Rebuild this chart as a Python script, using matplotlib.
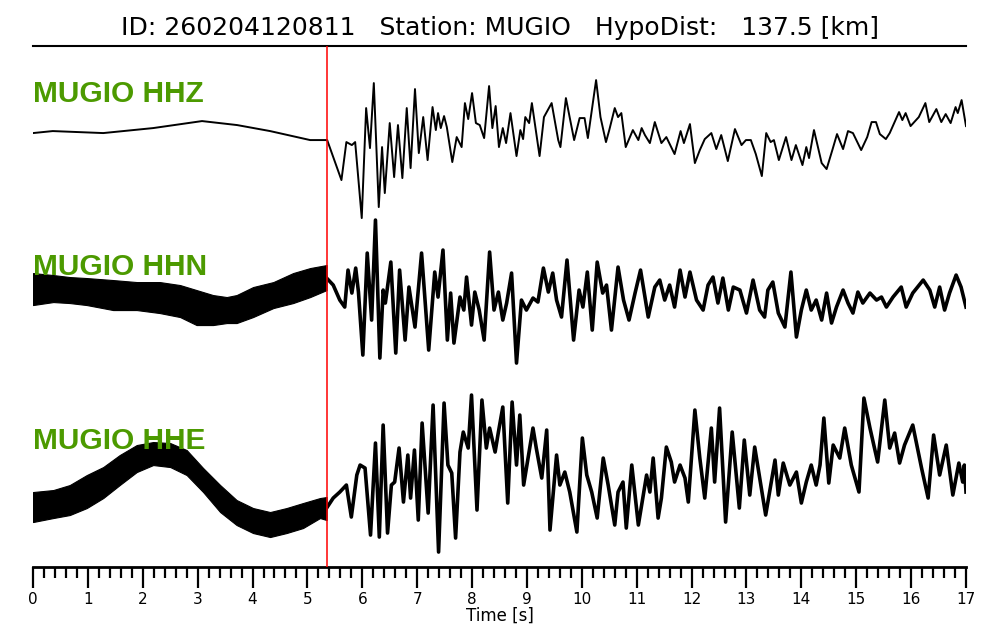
import numpy as np
import matplotlib
matplotlib.use("Agg")
import matplotlib.pyplot as plt
from matplotlib.ticker import MultipleLocator

# ---------------- data (time [s], amplitude [arb.]) ----------------
title_text = "ID: 260204120811   Station: MUGIO   HypoDist:   137.5 [km]"
channels = ["MUGIO HHZ", "MUGIO HHN", "MUGIO HHE"]
p_pick = 5.36

# HHZ trace (turning points)
hhz = np.array([
    (0.00, -2), (0.36, 0), (1.28, -2), (2.19, 3), (3.08, 10), (3.72, 6), (4.32, 0),
    (5.05, -9), (5.36, -9), (5.47, -26), (5.62, -49), (5.71, -11), (5.81, -14), (5.87, -11),
    (5.99, -87), (6.07, 23), (6.14, -17), (6.21, 48), (6.30, -76), (6.36, -16), (6.41, -62),
    (6.50, 8), (6.58, -46), (6.65, 6), (6.73, -47), (6.81, 23), (6.88, -37), (6.96, 42),
    (7.03, -22), (7.11, 14), (7.19, -29), (7.28, 24), (7.34, 1), (7.38, 18), (7.43, 3),
    (7.49, 15), (7.54, 4), (7.64, -31), (7.72, -6), (7.81, -16), (7.87, 28), (7.93, 12),
    (8.00, 38), (8.07, 8), (8.14, 6), (8.22, -7), (8.31, 45), (8.37, 3), (8.43, 25),
    (8.49, -16), (8.56, 3), (8.62, -12), (8.70, 18), (8.81, -25), (8.88, 1), (8.93, -8),
    (8.97, 14), (9.04, 8), (9.09, 28), (9.23, -25), (9.31, 14), (9.45, 28), (9.57, -9),
    (9.61, -16), (9.71, 33), (9.86, -9), (9.96, 13), (10.05, 13), (10.11, -7), (10.26, 51),
    (10.34, 14), (10.44, -11), (10.50, 1), (10.60, 23), (10.66, 14), (10.72, 18), (10.80, -16),
    (10.93, 1), (11.03, -9), (11.09, 3), (11.15, -4), (11.24, -12), (11.33, 9), (11.45, -12),
    (11.54, -6), (11.69, -23), (11.80, 0), (11.86, -12), (11.97, 7), (12.06, -32), (12.15, -19),
    (12.24, -8), (12.36, -2), (12.45, -18), (12.54, -4), (12.66, -30), (12.79, 2), (12.91, -14),
    (12.99, -9), (13.08, -9), (13.17, -23), (13.28, -45), (13.36, -2), (13.44, -11), (13.50, -9),
    (13.59, -29), (13.72, -6), (13.82, -29), (13.90, -14), (14.02, -34), (14.09, -16), (14.14, -27),
    (14.23, 1), (14.37, -32), (14.46, -38), (14.57, -18), (14.65, -3), (14.76, -18), (14.85, 0),
    (14.94, -2), (15.09, -19), (15.20, -6), (15.28, 9), (15.36, 9), (15.43, -3), (15.54, -8),
    (15.61, -2), (15.78, 19), (15.84, 11), (15.90, 18), (15.99, 5), (16.14, 14), (16.26, 28),
    (16.33, 9), (16.46, 22), (16.55, 9), (16.63, 17), (16.72, 8), (16.81, 24), (16.85, 18),
    (16.92, 31), (17.00, 5),
])

# HHN pre-event noise envelope (time, upper, lower)
hhn_noise = np.array([
    (0.00, 17, -15), (0.37, 15, -12), (0.67, 13, -13), (0.98, 12, -15), (1.46, 10, -20),
    (1.89, 8, -20), (2.31, 8, -23), (2.68, 5, -27), (2.98, 0, -35), (3.28, -5, -35),
    (3.53, -7, -33), (3.71, -5, -33), (4.01, 3, -27), (4.38, 8, -18), (4.74, 17, -13),
    (5.05, 22, -7), (5.35, 25, 0),
])
# HHN trace after the P pick
hhn = np.array([
    (5.35, 12), (5.47, 5), (5.59, -10), (5.68, -17), (5.74, 20), (5.81, -3), (5.88, 22),
    (5.93, -2), (6.01, -65), (6.09, 37), (6.17, -30), (6.24, 70), (6.32, -68), (6.38, 0),
    (6.42, -13), (6.52, 28), (6.61, -63), (6.68, 20), (6.78, -50), (6.85, 3), (6.96, -37),
    (7.08, 37), (7.21, -60), (7.32, 18), (7.38, -7), (7.47, 40), (7.55, -50), (7.61, -3),
    (7.67, -53), (7.78, -7), (7.85, -20), (7.90, 13), (7.99, -35), (8.05, -2), (8.13, -20),
    (8.22, -50), (8.32, 38), (8.40, -20), (8.48, -2), (8.56, -30), (8.63, -13), (8.72, 17),
    (8.81, -73), (8.90, -10), (8.99, -20), (9.11, -8), (9.20, -12), (9.30, 22), (9.39, -2),
    (9.47, 17), (9.54, -10), (9.63, -27), (9.73, 30), (9.85, -50), (9.95, 0), (10.02, -17),
    (10.10, 18), (10.19, -40), (10.28, 28), (10.38, -3), (10.45, 5), (10.54, -40), (10.66, 23),
    (10.76, -10), (10.86, -30), (10.97, -3), (11.07, 20), (11.21, -27), (11.33, 3), (11.42, 10),
    (11.51, -10), (11.60, 5), (11.69, -17), (11.79, 20), (11.88, -7), (11.97, 18), (12.09, -10),
    (12.21, -20), (12.30, 5), (12.39, 13), (12.48, -13), (12.57, 12), (12.67, -20), (12.76, 3),
    (12.88, 0), (13.00, -23), (13.12, 10), (13.24, -20), (13.33, -27), (13.39, 0), (13.48, 8),
    (13.58, -23), (13.70, -37), (13.81, 18), (13.91, -47), (14.00, -20), (14.09, 0), (14.18, -20),
    (14.27, -10), (14.37, -30), (14.46, -3), (14.55, -33), (14.64, -17), (14.76, 0), (14.85, -13),
    (14.94, -23), (15.03, -2), (15.12, -13), (15.25, -3), (15.37, -10), (15.46, -7), (15.55, -17),
    (15.67, -7), (15.82, 3), (15.91, -17), (16.03, -3), (16.22, 10), (16.34, 0), (16.43, -17),
    (16.52, 3), (16.61, -20), (16.70, -3), (16.82, 15), (16.91, 3), (17.00, -17),
])

# HHE pre-event noise envelope (time, upper, lower)
hhe_noise = np.array([
    (0.00, -2, -32), (0.37, 0, -28), (0.67, 5, -25), (0.98, 15, -18), (1.28, 23, -8),
    (1.58, 35, 5), (1.89, 45, 18), (2.19, 48, 25), (2.50, 47, 23), (2.80, 40, 15),
    (3.10, 22, -2), (3.41, 5, -22), (3.71, -10, -35), (4.01, -18, -43), (4.32, -22, -47),
    (4.62, -18, -43), (4.92, -13, -38), (5.23, -8, -28), (5.35, -7, -30),
])
# HHE trace after the P pick
hhe = np.array([
    (5.35, -18), (5.47, -8), (5.59, -2), (5.71, 5), (5.80, -27), (5.90, 15), (5.96, 25),
    (6.05, 22), (6.15, -45), (6.24, 47), (6.31, -47), (6.38, 65), (6.46, -43), (6.53, 5),
    (6.59, 8), (6.67, 42), (6.75, -12), (6.83, 35), (6.88, -8), (6.95, 40), (7.02, -30),
    (7.09, 67), (7.20, -23), (7.29, 85), (7.39, -62), (7.49, 87), (7.56, 25), (7.63, 17),
    (7.70, -48), (7.78, 38), (7.84, 58), (7.93, 42), (7.99, 95), (8.09, -20), (8.18, 90),
    (8.26, 42), (8.32, 62), (8.42, 38), (8.48, 58), (8.56, 83), (8.65, -13), (8.73, 88),
    (8.81, 25), (8.87, 75), (8.94, 5), (9.02, 32), (9.11, 62), (9.17, 42), (9.27, 12),
    (9.36, 60), (9.42, -40), (9.48, -2), (9.54, 35), (9.60, 5), (9.69, 18), (9.78, -2),
    (9.91, -42), (10.01, 52), (10.09, 15), (10.18, -2), (10.28, -28), (10.39, 32), (10.48, 5),
    (10.60, -35), (10.66, -2), (10.75, 8), (10.81, -38), (10.91, 25), (11.03, -35), (11.18, 15),
    (11.24, -2), (11.30, 32), (11.39, -28), (11.45, -8), (11.54, 43), (11.63, 28), (11.69, 8),
    (11.79, 25), (11.88, 12), (11.94, -12), (12.06, 80), (12.15, 32), (12.24, -8), (12.36, 62),
    (12.42, 8), (12.51, 82), (12.62, -32), (12.74, 58), (12.87, -18), (12.96, 50), (13.06, -5),
    (13.15, 43), (13.35, -25), (13.52, 30), (13.58, -5), (13.67, 27), (13.79, 5), (13.91, 18),
    (14.00, -13), (14.09, 8), (14.18, 25), (14.27, 5), (14.34, 25), (14.41, 72), (14.50, 7),
    (14.58, 45), (14.70, 32), (14.79, 62), (14.91, 25), (15.05, -2), (15.14, 92), (15.25, 62),
    (15.39, 28), (15.52, 90), (15.61, 42), (15.70, 57), (15.79, 27), (15.88, 45), (16.03, 65),
    (16.19, 22), (16.31, -8), (16.41, 55), (16.52, 15), (16.64, 45), (16.76, -5), (16.87, 27),
    (16.94, 8), (16.97, 25), (17.00, -2),
])

# ---------------- layout ----------------
offsets = [131, 290, 490]        # vertical position of each trace baseline
label_y = [102, 275, 449]        # baseline of channel labels
green = "#4C9A00"

fig = plt.figure(figsize=(10, 6.4), dpi=100)
ax = fig.add_axes([0.033, 0.114, 0.933, 0.814])

# HHZ
ax.plot(hhz[:, 0], hhz[:, 1] - offsets[0], color="black", lw=1.4, solid_joinstyle="round")

# HHN
ax.fill_between(hhn_noise[:, 0], hhn_noise[:, 2] - offsets[1], hhn_noise[:, 1] - offsets[1],
                color="black", lw=0.8)
ax.plot(hhn[:, 0], hhn[:, 1] - offsets[1], color="black", lw=2.6, solid_joinstyle="round")

# HHE
ax.fill_between(hhe_noise[:, 0], hhe_noise[:, 2] - offsets[2], hhe_noise[:, 1] - offsets[2],
                color="black", lw=0.8)
ax.plot(hhe[:, 0], hhe[:, 1] - offsets[2], color="black", lw=2.6, solid_joinstyle="round")

for name, ly in zip(channels, label_y):
    ax.text(0.0, -ly, name, color=green, fontsize=21.5, fontweight="bold",
            family="Liberation Sans", va="baseline", ha="left", zorder=5)

ax.axvline(p_pick, color="red", lw=1.1, zorder=4)

ax.set_xlim(0, 17)
ax.set_ylim(-567, -46)
for s in ("left", "right"):
    ax.spines[s].set_visible(False)
ax.spines["top"].set_linewidth(1.5)
ax.spines["bottom"].set_linewidth(2.0)
ax.set_yticks([])
ax.xaxis.set_major_locator(MultipleLocator(1))
ax.xaxis.set_minor_locator(MultipleLocator(0.2))
ax.tick_params(axis="x", which="major", direction="out", length=15, width=1.6,
               labelsize=11, pad=3)
ax.tick_params(axis="x", which="minor", direction="out", length=8, width=1.6)
ax.set_xlabel("Time [s]", fontsize=12, labelpad=0)

fig.text(0.5, 0.957, title_text, ha="center", va="center", fontsize=18)

fig.savefig("out.png", dpi=100)
